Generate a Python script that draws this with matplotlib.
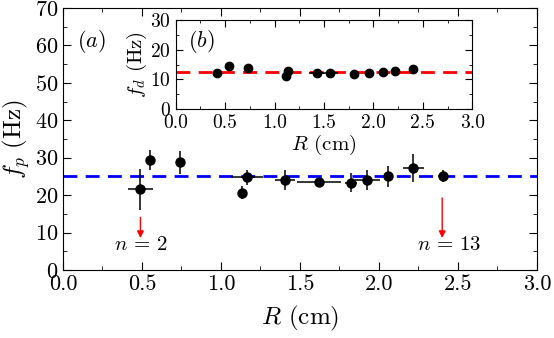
import matplotlib
matplotlib.use("Agg")
import matplotlib.pyplot as plt
from matplotlib.ticker import MultipleLocator

plt.rcParams['font.family'] = 'cmr10'
plt.rcParams['mathtext.fontset'] = 'cm'
plt.rcParams['axes.formatter.use_mathtext'] = True

# main panel (a): f_p vs R
R_p = [0.49, 0.55, 0.74, 1.135, 1.165, 1.405, 1.62, 1.823, 1.926, 2.06, 2.217, 2.403]
fp = [21.6, 29.4, 28.8, 20.7, 24.8, 24.0, 23.6, 23.3, 24.0, 25.1, 27.2, 25.1]
fp_err = [5.5, 2.7, 3.1, 1.7, 2.0, 2.7, 0.6, 2.5, 2.7, 2.8, 3.7, 1.7]
R_p_err = [0.08, 0.0, 0.0, 0.0, 0.1, 0.065, 0.14, 0.04, 0.08, 0.03, 0.065, 0.03]
fp_mean = 25.0

# inset (b): f_d vs R
R_d = [0.415, 0.539, 0.728, 1.12, 1.14, 1.425, 1.563, 1.806, 1.958, 2.10, 2.22, 2.40]
fd = [12.0, 14.6, 13.7, 11.2, 12.7, 12.0, 12.2, 11.8, 12.0, 12.5, 12.9, 13.5]
fd_err = [0.8, 0.8, 0.8, 0.8, 0.8, 0.6, 0.6, 0.6, 0.6, 0.6, 0.6, 0.8]
R_d_err = [0.0, 0.0, 0.0, 0.0, 0.0, 0.08, 0.08, 0.04, 0.04, 0.03, 0.03, 0.03]
fd_mean = 12.6

fig = plt.figure(figsize=(5.54, 3.38), dpi=100)
ax = fig.add_axes([0.1137, 0.2012, 0.8556, 0.7751])

ax.axhline(fp_mean, color='#0000ff', ls=(0, (5, 3)), lw=2)
ax.errorbar(R_p, fp, yerr=fp_err, xerr=R_p_err, fmt='o', color='black',
            ms=6.5, elinewidth=1.1, capsize=0, zorder=3)

ax.annotate('', xy=(0.49, 7.8), xytext=(0.49, 14.8),
            arrowprops=dict(arrowstyle='-|>', color='red', lw=1, mutation_scale=10))
ax.annotate('', xy=(2.40, 7.8), xytext=(2.40, 20.0),
            arrowprops=dict(arrowstyle='-|>', color='red', lw=1, mutation_scale=10))
ax.text(0.49, 6.6, r'$n\,=\,2$', fontsize=15, ha='center', va='center')
ax.text(2.44, 6.6, r'$n\,=\,13$', fontsize=15, ha='center', va='center')
ax.text(0.09, 61, '$(a)$', fontsize=16, ha='left', va='center')

ax.set_xlim(0, 3.0)
ax.set_ylim(0, 70)
ax.xaxis.set_major_locator(MultipleLocator(0.5))
ax.xaxis.set_minor_locator(MultipleLocator(0.25))
ax.yaxis.set_major_locator(MultipleLocator(10))
ax.yaxis.set_minor_locator(MultipleLocator(5))
ax.xaxis.set_major_formatter(plt.FormatStrFormatter('%.1f'))
ax.tick_params(which='both', direction='in', top=True, right=True, labelsize=16)
ax.tick_params(which='major', length=6)
ax.tick_params(which='minor', length=3)
ax.set_xlabel('$R$ (cm)', fontsize=18, labelpad=7)
ax.set_ylabel('$f_p$ (Hz)', fontsize=18, labelpad=2)

ins = fig.add_axes([0.3171, 0.6775, 0.5354, 0.2633])
ins.axhline(fd_mean, color='#ff0000', ls=(0, (5, 3)), lw=2)
ins.errorbar(R_d, fd, yerr=fd_err, xerr=R_d_err, fmt='o', color='black',
             ms=6, elinewidth=1.1, capsize=0, zorder=3)
ins.text(0.12, 22.7, '$(b)$', fontsize=16, ha='left', va='center')
ins.set_xlim(0, 3.0)
ins.set_ylim(0, 30)
ins.xaxis.set_major_locator(MultipleLocator(0.5))
ins.xaxis.set_minor_locator(MultipleLocator(0.25))
ins.yaxis.set_major_locator(MultipleLocator(10))
ins.yaxis.set_minor_locator(MultipleLocator(5))
ins.xaxis.set_major_formatter(plt.FormatStrFormatter('%.1f'))
ins.tick_params(which='both', direction='in', top=True, right=True, labelsize=14)
ins.tick_params(which='major', length=5)
ins.tick_params(which='minor', length=2.5)
ins.set_xlabel('$R$ (cm)', fontsize=15, labelpad=1)
ins.set_ylabel('$f_d$ (Hz)', fontsize=15, labelpad=1)

fig.savefig('out.png', dpi=100)
